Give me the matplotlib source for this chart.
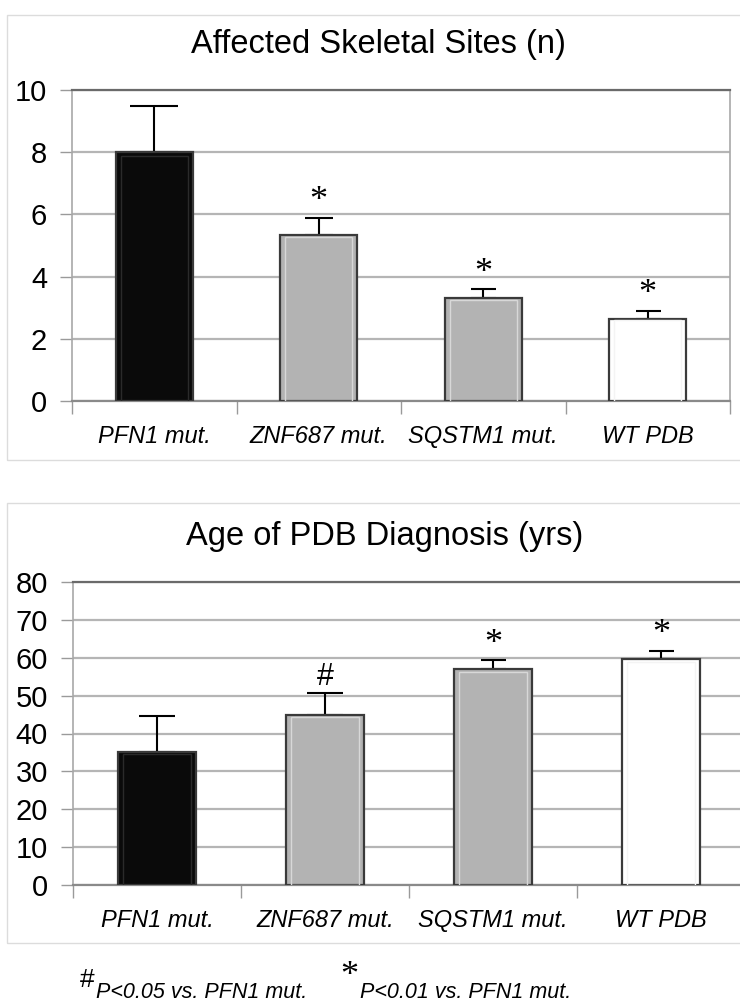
import matplotlib.pyplot as plt
from matplotlib.patches import Rectangle

W, H = 740, 1007

GROUPS = ["PFN1 mut.", "ZNF687 mut.", "SQSTM1 mut.", "WT PDB"]
SITES = [8.0, 5.35, 3.3, 2.65]
SITES_ERR = [1.5, 0.55, 0.3, 0.25]
SITES_MARKS = ["", "*", "*", "*"]
AGE = [35.0, 45.0, 57.0, 59.8]
AGE_ERR = [9.6, 5.6, 2.4, 2.1]
AGE_MARKS = ["", "#", "*", "*"]

BAR_COLORS = ["#0a0a0a", "#b3b3b3", "#b3b3b3", "#ffffff"]
HILITE = ["#2a2a2a", "#d8d8d8", "#d8d8d8", "#f4f4f4"]
SANS = ["Liberation Sans", "DejaVu Sans"]
SERIF = ["Liberation Serif", "DejaVu Serif"]


def px_axes(fig, left, top, right, bottom):
    return fig.add_axes([left / W, 1 - bottom / H, (right - left) / W, (bottom - top) / H])


def draw_panel(ax, values, errors, marks, ymax, step, caps):
    x = range(len(values))
    ax.bar(x, values, width=0.47, color=BAR_COLORS, edgecolor="#3a3a3a",
           linewidth=1.6, zorder=3)
    # light inner rim to mimic the bevel of the original
    ax.bar(x, [v * 0.985 for v in values], width=0.41, color="none", edgecolor=HILITE,
           linewidth=1.0, zorder=3)
    for i, (v, e) in enumerate(zip(values, errors)):
        ax.errorbar(i, v, yerr=[[0], [e]], fmt="none", ecolor="black",
                    elinewidth=1.5, capsize=caps[i], capthick=1.5, zorder=2)
        if marks[i]:
            ax.annotate(marks[i], (i, v + e), xytext=(0, 11.5), textcoords="offset points",
                        ha="center", va="center",
                        fontsize=26 if marks[i] == "*" else 22,
                        family=SERIF if marks[i] == "*" else SANS)
    ax.set_xlim(-0.5, len(values) - 0.5)
    ax.set_ylim(0, ymax)
    ax.set_yticks(range(0, ymax + 1, step))
    ax.set_xticks(list(x))
    ax.set_xticklabels(GROUPS, fontsize=17, style="italic", family=SANS)
    ax.set_xticks([i - 0.5 for i in range(len(values) + 1)], minor=True)
    ax.tick_params(axis="x", which="major", length=0, pad=17)
    ax.tick_params(axis="x", which="minor", length=9, width=1, color="#9a9a9a")
    ax.tick_params(axis="y", length=9, width=1, color="#9a9a9a", pad=9, labelsize=21)
    for lab in ax.get_yticklabels():
        lab.set_family(SANS)
    ax.grid(True, axis="y", color="#b5b5b5", linewidth=1.6, zorder=0)
    ax.set_axisbelow(True)
    for side in ["left", "right"]:
        ax.spines[side].set_color("#a8a8a8")
        ax.spines[side].set_linewidth(1.2)
    ax.spines["top"].set_color("#6a6a6a")
    ax.spines["top"].set_linewidth(1.6)
    ax.spines["bottom"].set_color("#8a8a8a")
    ax.spines["bottom"].set_linewidth(1.6)


fig = plt.figure(figsize=(W / 100, H / 100), dpi=100)

# panel frames
fig.add_artist(Rectangle((7 / W, 1 - 460 / H), 740 / W, 445 / H, transform=fig.transFigure,
                         fill=False, edgecolor="#dcdcdc", linewidth=1))
fig.add_artist(Rectangle((7 / W, 1 - 943 / H), 740 / W, 440 / H, transform=fig.transFigure,
                         fill=False, edgecolor="#dcdcdc", linewidth=1))

ax1 = px_axes(fig, 72, 90, 730, 401)
draw_panel(ax1, SITES, SITES_ERR, SITES_MARKS, 10, 2, [17, 10, 9, 9])
fig.text(378 / W, 1 - 45 / H, "Affected Skeletal Sites (n)", fontsize=23.5, family=SANS,
         ha="center", va="center")

ax2 = px_axes(fig, 73, 582, 745, 885)
draw_panel(ax2, AGE, AGE_ERR, AGE_MARKS, 80, 10, [13, 13, 9, 9])
ax2.spines["right"].set_visible(False)
fig.text(385 / W, 1 - 537 / H, "Age of PDB Diagnosis (yrs)", fontsize=23.5, family=SANS,
         ha="center", va="center")

# footnote
fig.text(80 / W, 1 - 980 / H, "#", fontsize=19, family=SANS, ha="left", va="center")
fig.text(96 / W, 1 - 992 / H, "P<0.05 vs. PFN1 mut.", fontsize=15.5, style="italic",
         family=SANS, ha="left", va="center")
fig.text(340 / W, 1 - 977 / H, "*", fontsize=26, family=SERIF, ha="left", va="center")
fig.text(360 / W, 1 - 992 / H, "P<0.01 vs. PFN1 mut.", fontsize=15.5, style="italic",
         family=SANS, ha="left", va="center")

fig.savefig("out.png", dpi=100)
